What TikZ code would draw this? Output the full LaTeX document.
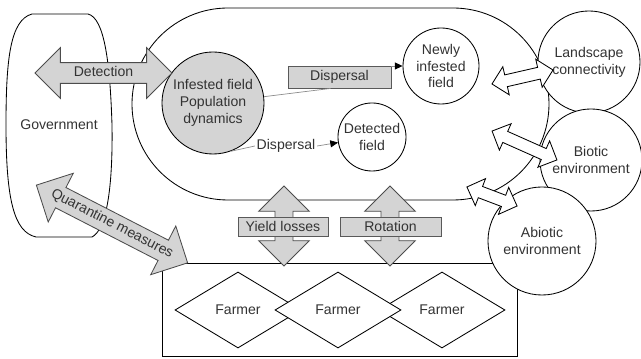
\documentclass[tikz,border=0pt]{standalone}
\usepackage{fontspec}
\setmainfont{Liberation Sans}
\usetikzlibrary{shapes.geometric,shapes.arrows,arrows.meta}
\definecolor{boxgray}{HTML}{D4D4D4}
\definecolor{inkgray}{HTML}{333333}
\tikzset{
  every node/.style={font=\fontsize{10}{12}\selectfont, text=inkgray},
  field/.style={circle, draw=black, fill=white, align=center, inner sep=0pt},
  labelbox/.style={rectangle, draw=black!65, fill=boxgray, inner sep=0pt},
  farmer/.style={diamond, draw=black, fill=white, inner sep=0pt, minimum width=3.15cm, minimum height=1.9cm},
  fatarrow/.style={double arrow, draw=black!70, fill=boxgray, double arrow tip angle=90, double arrow head indent=0pt, inner xsep=0pt},
  hollowarrow/.style={double arrow, draw=black, fill=white, double arrow tip angle=90, inner xsep=0pt, inner ysep=0.14cm, double arrow head extend=0.21cm},
  spread/.style={draw=black!45, line width=0.5pt},
  spreadtip/.style={spread, -{Triangle[length=5.5pt,width=5pt,color=black]}}
}
\begin{document}
\begin{tikzpicture}[x=0.025cm, y=-0.025cm, line width=0.6pt]
\useasboundingbox (0,0) rectangle (641,359);

% Government
\draw (32,14) -- (88,14) .. controls (104,18) and (110,60) .. (112,125)
  .. controls (113,190) and (106,230) .. (92,237) -- (36,237)
  .. controls (14,232) and (6,200) .. (6,125)
  .. controls (6,60) and (10,20) .. (32,14) -- cycle;
\node (gov) at (59,125) {Government};

% Field area
\draw[rounded corners=2.4cm] (132,8) rectangle (549,200);

% Farmers
\draw (162,263) rectangle (517,356);
\node[farmer] (farmer1) at (238,310) {Farmer};
\node[farmer] (farmer3) at (442,310) {Farmer};
\node[farmer] (farmer2) at (338,310) {Farmer};

% Environment
\node[field, minimum size=2.55cm] (landscape) at (589,62) {Landscape\\connectivity};
\node[field, minimum size=2.55cm] (biotic) at (591,160) {Biotic\\environment};
\node[field, minimum size=2.7cm] (abiotic) at (542,241) {Abiotic\\environment};

% Fields
\node[field, fill=boxgray, minimum size=2.55cm] (infested) at (213,103) {Infested field\\Population\\dynamics};
\node[field, minimum size=1.9cm] (newly) at (441,66) {Newly\\infested\\field};
\node[field, minimum size=1.7cm] (detected) at (372,137) {Detected\\field};

% Dispersal
\node[labelbox, minimum width=2.575cm, minimum height=0.55cm] (dispbox) at (339.5,77) {Dispersal};
\node[inner sep=1pt] (disptxt) at (286,146) {Dispersal};
\draw[spread] (infested) -- ([xshift=-0.22cm]dispbox.south);
\draw[spreadtip] (dispbox.east |- newly.west) -- (newly.west);
\draw[spread] (infested.-70) -- (disptxt.west);
\draw[spreadtip] (disptxt.east) -- (detected);

% Fat arrows
\node[fatarrow, minimum height=3.425cm, text height=7pt, text depth=2pt, inner ysep=2.6pt,
  double arrow head extend=0.375cm] (detection) at (103.5,73) {Detection};
\node[fatarrow, rotate=-27.2, minimum height=4.25cm, text height=7pt, text depth=2pt, inner ysep=3.3pt,
  double arrow head extend=0.4cm] (quarantine) at (112,224) {\makebox[2.4cm]{Quarantine measures}};
\node[fatarrow, rotate=90, minimum height=2cm, inner ysep=0.2125cm,
  double arrow head extend=0.41cm] (yieldarrow) at (284,226) {};
\node[fatarrow, rotate=90, minimum height=2cm, inner ysep=0.2125cm,
  double arrow head extend=0.41cm] (rotarrow) at (390,226) {};
\node[labelbox, minimum width=2.25cm, minimum height=0.475cm] (yield) at (283,226.5) {Yield losses};
\node[labelbox, minimum width=2.525cm, minimum height=0.475cm] (rotation) at (390.5,226.5) {Rotation};

% Hollow arrows
\node[hollowarrow, rotate=12.9, minimum height=1.565cm] (landarrow) at (522.5,77) {};
\node[hollowarrow, rotate=-24, minimum height=1.775cm] (bioarrow) at (524.5,145.5) {};
\node[hollowarrow, rotate=-20.8, minimum height=1.34cm] (abioarrow) at (492,196.5) {};

\end{tikzpicture}
\end{document}
